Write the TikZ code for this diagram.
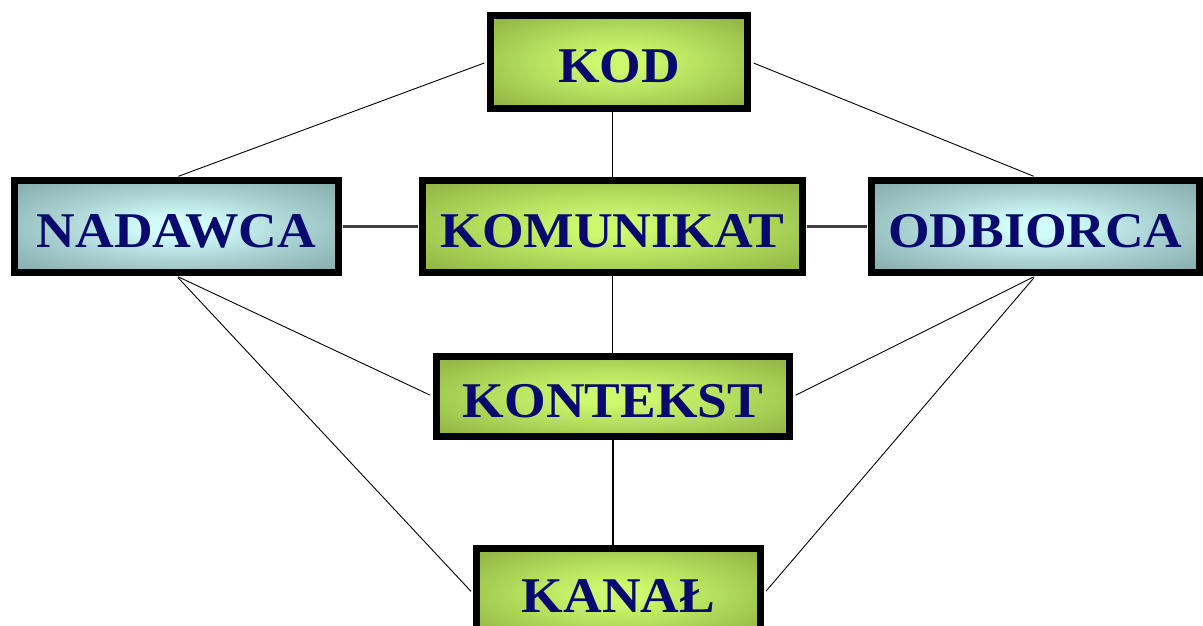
\documentclass[tikz,border=0pt]{standalone}
\usepackage{fontspec}
\setmainfont{Liberation Serif}
\newfontfamily\boxfont[FakeStretch=1.07]{Liberation Serif}
\definecolor{navytext}{RGB}{10,10,110}
\definecolor{ginner}{RGB}{205,248,110}
\definecolor{gmid}{RGB}{178,220,92}
\definecolor{gouter}{RGB}{148,184,72}
\definecolor{cinner}{RGB}{210,252,252}
\definecolor{cmid}{RGB}{172,212,212}
\definecolor{couter}{RGB}{138,178,178}
\pgfdeclareradialshading{greenglow}{\pgfpoint{0bp}{0bp}}{color(0bp)=(ginner); color(5bp)=(ginner); color(18bp)=(gmid); color(32bp)=(gouter); color(50bp)=(gouter)}
\pgfdeclareradialshading{cyanglow}{\pgfpoint{0bp}{0bp}}{color(0bp)=(cinner); color(5bp)=(cinner); color(18bp)=(cmid); color(32bp)=(couter); color(50bp)=(couter)}
\tikzset{
  boxbase/.style={draw=black, line width=7pt, inner sep=0pt,
    font=\boxfont\fontsize{50}{60}\selectfont\bfseries, text=navytext,
    text height=41pt, text depth=0pt},
  gbox/.style={boxbase, shading=greenglow},
  cbox/.style={boxbase, shading=cyanglow},
  conn/.style={draw=black, line width=0.9pt, shorten <=2pt, shorten >=3pt},
  hconn/.style={draw=black!75, line width=2.2pt, shorten <=1pt, shorten >=1pt},
  vconn/.style={draw=black, line width=1.2pt}
}
\begin{document}
\begin{tikzpicture}[x=1pt,y=-1pt]
\clip (0,0) rectangle (1203,625);
\node[gbox, minimum width=257pt, minimum height=93pt] (kod) at (619,62) {KOD};
\node[cbox, minimum width=324pt, minimum height=92pt] (nad) at (176.5,226.5) {NADAWCA};
\node[gbox, minimum width=380pt, minimum height=92pt] (kom) at (612.5,226.5) {KOMUNIKAT};
\node[cbox, minimum width=328pt, minimum height=92pt] (odb) at (1035.5,226.5) {ODBIORCA};
\node[gbox, minimum width=353pt, minimum height=80pt] (kon) at (613,396.5) {KONTEKST};
\node[gbox, minimum width=284pt, minimum height=90pt, text height=37pt] (kan) at (618.5,593.5) {KANAŁ};

\draw[conn] (nad.north) -- (kod.west);
\draw[conn] (odb.north) -- (kod.east);
\draw[vconn] (kom.north) -- (kom.north |- kod.south);
\draw[hconn] (nad.east) -- (kom.west);
\draw[hconn] (kom.east) -- (odb.west);
\draw[vconn] (kom.south) -- (kom.south |- kon.north);
\draw[vconn] (kon.south) -- (kon.south |- kan.north);
\draw[conn] (nad.south) -- (kon.west);
\draw[conn] (nad.south) -- (kan.west);
\draw[conn] (odb.south) -- (kon.east);
\draw[conn] (odb.south) -- (kan.east);
\end{tikzpicture}
\end{document}
